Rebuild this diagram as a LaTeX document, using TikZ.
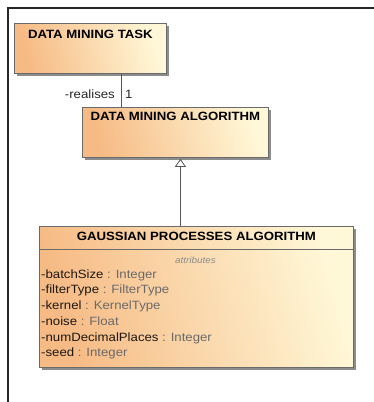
\documentclass[tikz,border=0pt]{standalone}
\usepackage{fontspec}
\newfontfamily\uml[FakeStretch=1.1]{Liberation Sans}
\usetikzlibrary{shadows,arrows.meta}
\definecolor{orng}{HTML}{F6BA84}
\definecolor{lyel}{HTML}{FFF8D8}
\definecolor{bord}{HTML}{6A6A6A}
\definecolor{tgray}{HTML}{6A6A6A}
\definecolor{tname}{HTML}{1E1814}
\definecolor{lnc}{HTML}{555555}
\begin{document}
\begin{tikzpicture}[x=1pt,y=-1pt,
  umlbox/.style={rectangle, draw=bord, line width=0.8pt, inner sep=0pt, anchor=north west,
    left color=orng, right color=lyel, shading angle=105,
    drop shadow={shadow xshift=2.2pt, shadow yshift=-2.2pt, fill=black!45, opacity=1}},
  title/.style={font=\uml\bfseries\fontsize{12}{14}\selectfont, anchor=base, inner sep=0pt, text=black},
  attr/.style={font=\uml\fontsize{12}{14}\selectfont, anchor=base west, inner sep=0pt, text=tname},
  lbl/.style={font=\uml\fontsize{12}{14}\selectfont, inner sep=0pt, text=black!85},
  conn/.style={draw=lnc, line width=0.8pt},
  gen/.style={draw=lnc, line width=0.8pt, -{Triangle[open, width=11pt, length=8pt, line width=0.8pt]}},
  frame/.style={draw=black!85, line width=1.6pt}
]
\useasboundingbox (0,0) rectangle (374,402);
\fill[white] (0,0) rectangle (374,402);
\draw[frame] (8,402) -- (8,8) -- (374,8);

\node[umlbox, minimum width=152pt, minimum height=50pt] (task) at (14,23) {};
\node[umlbox, minimum width=186pt, minimum height=50pt] (alg) at (82,107) {};
\node[umlbox, minimum width=314pt, minimum height=141pt] (gauss) at (39,226) {};

\node[title] (taskt) at ([yshift=-15.3pt]task.north) {DATA MINING TASK};
\node[title] (algt) at ([yshift=-13.7pt]alg.north) {DATA MINING ALGORITHM};
\node[title] (gausst) at ([yshift=-14pt]gauss.north) {GAUSSIAN PROCESSES ALGORITHM};

\draw[draw=bord, line width=0.8pt] ([yshift=-23pt]gauss.north west) -- ([yshift=-23pt]gauss.north east);

\node[font=\uml\itshape\fontsize{9}{11}\selectfont, text=black!45, anchor=base, inner sep=0pt] (attrs) at (195.5,263) {attributes};

\node[attr] (a1) at (41,278) {-batchSize {\color{tgray}: Integer}};
\node[attr] (a2) at (41,293.75) {-filterType {\color{tgray}: FilterType}};
\node[attr] (a3) at (41,309.5) {-kernel {\color{tgray}: KernelType}};
\node[attr] (a4) at (41,325.25) {-noise {\color{tgray}: Float}};
\node[attr] (a5) at (41,341) {-numDecimalPlaces {\color{tgray}: Integer}};
\node[attr] (a6) at (41,356.75) {-seed {\color{tgray}: Integer}};

\draw[conn] ([xshift=31pt]task.south) -- ([xshift=-54pt]alg.north);
\node[lbl, anchor=base east] (rl) at (115,98) {-realises};
\node[lbl, anchor=base west] (one) at (125,98) {1};

\draw[gen] ([xshift=-16pt]gauss.north) -- ([xshift=5pt, yshift=-1pt]alg.south);
\end{tikzpicture}
\end{document}
